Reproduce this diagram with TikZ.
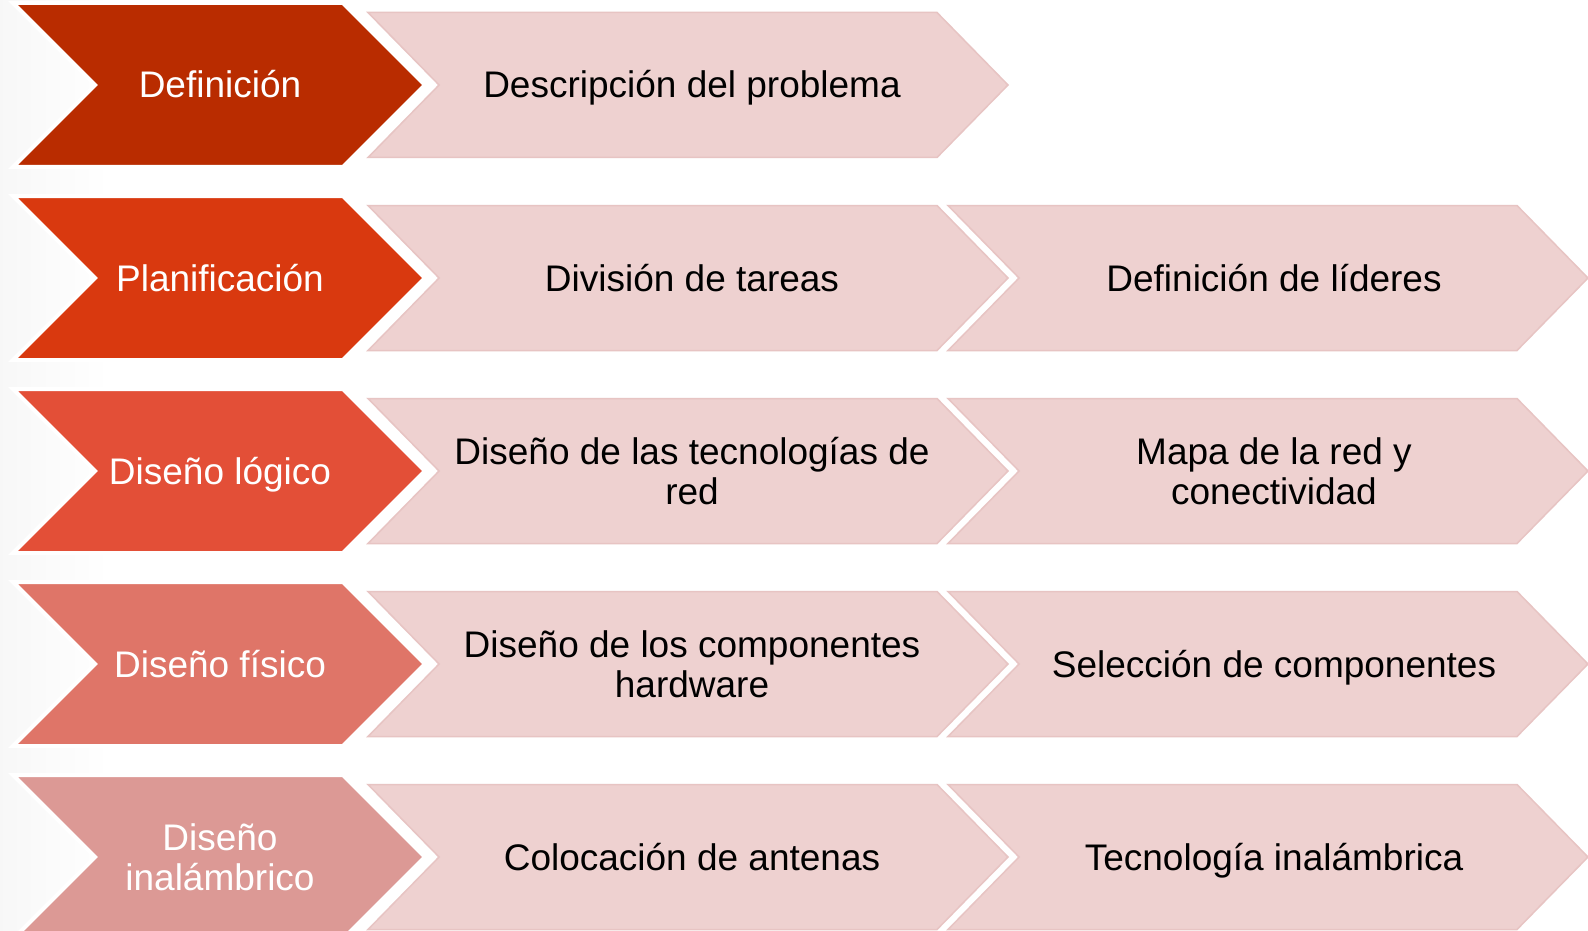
\documentclass[tikz,border=0pt]{standalone}
\usepackage{fontspec}
\setmainfont{Liberation Sans}
\definecolor{cA}{HTML}{B92C00}
\definecolor{cB}{HTML}{D9390F}
\definecolor{cC}{HTML}{E34F37}
\definecolor{cD}{HTML}{DF7568}
\definecolor{cE}{HTML}{DC9995}
\definecolor{lightfill}{HTML}{EED1D0}
\definecolor{lightedge}{HTML}{E7C4C3}
\newcommand\bigchev[2]{%
  \filldraw[fill=#2, draw=white, line width=4pt, line join=miter]
    (13,#1-82) -- (343,#1-82) -- (425,#1) -- (343,#1+82) -- (13,#1+82) -- (95,#1) -- cycle;}
\newcommand\lightchev[2]{%
  \filldraw[fill=lightfill, draw=lightedge, line width=1.5pt]
    (#1,#2-72.5) -- (#1+569,#2-72.5) -- (#1+640,#2) -- (#1+569,#2+72.5) -- (#1,#2+72.5) -- (#1+71,#2) -- cycle;}
\tikzset{
  bigtxt/.style={text=white, align=center, anchor=base, font=\fontsize{37}{40}\selectfont, inner sep=0pt},
  lighttxt/.style={text=black, align=center, anchor=base, font=\fontsize{37}{40}\selectfont, inner sep=0pt}
}
\begin{document}
\begin{tikzpicture}[x=1pt,y=-1pt]
\useasboundingbox (0,0) rectangle (1588,931);
\clip (0,0) rectangle (1588,931);
\fill[white] (0,0) rectangle (1588,931);
\shade[left color=black!3, right color=white] (0,0) rectangle (110,931);
% row 1
\lightchev{368}{85}
\bigchev{85}{cA}
% row 2
\lightchev{368}{278}
\lightchev{948}{278}
\bigchev{278}{cB}
% row 3
\lightchev{368}{471}
\lightchev{948}{471}
\bigchev{471}{cC}
% row 4
\lightchev{368}{664}
\lightchev{948}{664}
\bigchev{664}{cD}
% row 5
\lightchev{368}{857}
\lightchev{948}{857}
\bigchev{857}{cE}
% texts (single line: baseline at cy+13; two lines: last baseline at cy+33)
\node[bigtxt] (b1) at (220,98) {Definición};
\node[bigtxt] (b2) at (220,291) {Planificación};
\node[bigtxt] (b3) at (220,484) {Diseño lógico};
\node[bigtxt] (b4) at (220,677) {Diseño físico};
\node[bigtxt] (b5) at (220,890) {Diseño\\inalámbrico};
\node[lighttxt] (l1) at (692,98) {Descripción del problema};
\node[lighttxt] (l2) at (692,291) {División de tareas};
\node[lighttxt] (r2) at (1274,291) {Definición de líderes};
\node[lighttxt] (l3) at (692,504) {Diseño de las tecnologías de\\red};
\node[lighttxt] (r3) at (1274,504) {Mapa de la red y\\conectividad};
\node[lighttxt] (l4) at (692,697) {Diseño de los componentes\\hardware};
\node[lighttxt] (r4) at (1274,677) {Selección de componentes};
\node[lighttxt] (l5) at (692,870) {Colocación de antenas};
\node[lighttxt] (r5) at (1274,870) {Tecnología inalámbrica};
\end{tikzpicture}
\end{document}
